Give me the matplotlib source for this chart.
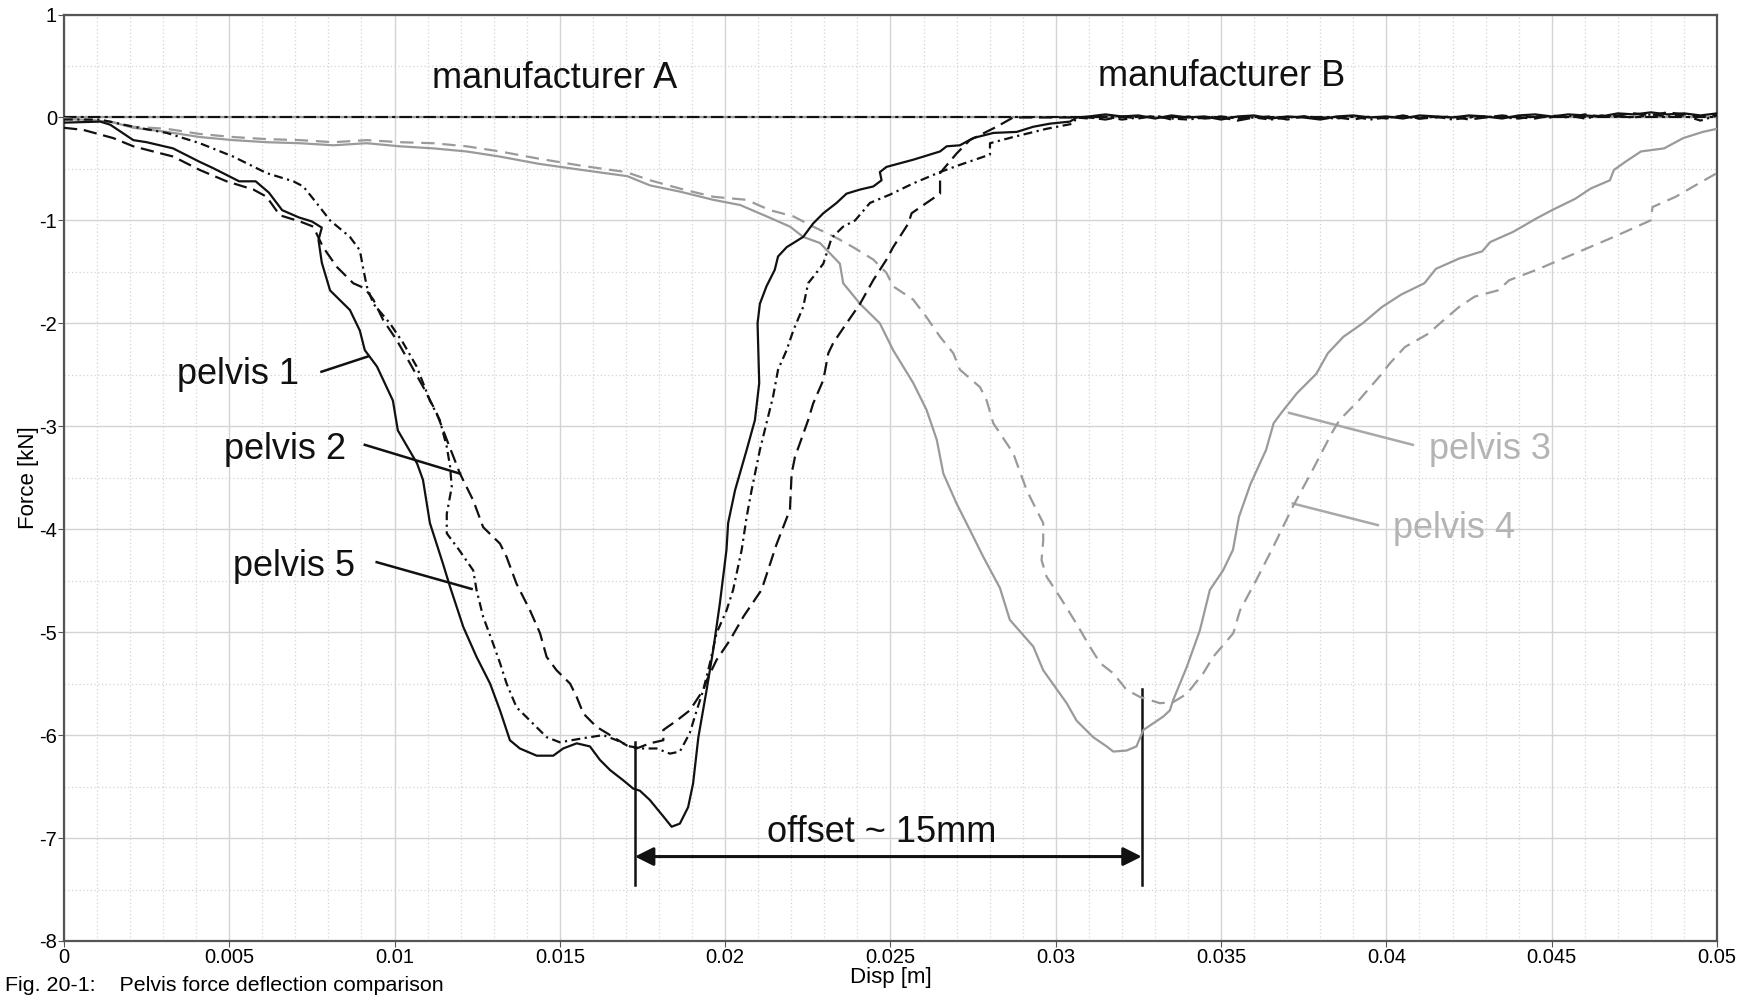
import numpy as np
import matplotlib.pyplot as plt
from matplotlib.ticker import MultipleLocator, FuncFormatter

plt.rcParams['font.family'] = ['Liberation Sans', 'DejaVu Sans']

# pelvis 1 (manufacturer A, black solid)
p1_x = [0.0, 0.0011, 0.0014, 0.0021, 0.0025, 0.0033, 0.0041, 0.0045, 0.0053, 0.0058,
        0.0062, 0.0066, 0.0071, 0.0075, 0.0078, 0.0077, 0.0078, 0.00805, 0.00865, 0.00895,
        0.0091, 0.00947, 0.00995, 0.0101, 0.01068, 0.01086, 0.01107, 0.01146, 0.01168, 0.01208,
        0.01248, 0.01289, 0.01319, 0.01349, 0.01379, 0.0143, 0.0148, 0.0151, 0.01551, 0.01591,
        0.01621, 0.01652, 0.01692, 0.01722, 0.01742, 0.01772, 0.01813, 0.01838, 0.01863, 0.01888,
        0.01903, 0.01919, 0.01944, 0.01964, 0.01984, 0.02004, 0.02009, 0.0203, 0.02065, 0.0209,
        0.02103, 0.02098, 0.02105, 0.02125, 0.0215, 0.0216, 0.02186, 0.02236, 0.02266, 0.02297,
        0.02337, 0.02367, 0.02408, 0.02448, 0.02473, 0.02468, 0.02488, 0.02569, 0.0265, 0.0267,
        0.0271, 0.0275, 0.02811, 0.02882, 0.02932, 0.02982, 0.03043, 0.03063]
p1_y = [-0.05, -0.04, -0.07, -0.22, -0.24, -0.30, -0.43, -0.49, -0.62, -0.62,
        -0.73, -0.90, -0.97, -1.01, -1.07, -1.19, -1.41, -1.68, -1.87, -2.07,
        -2.26, -2.42, -2.75, -3.04, -3.36, -3.52, -3.94, -4.33, -4.56, -4.95,
        -5.24, -5.50, -5.76, -6.05, -6.13, -6.20, -6.20, -6.13, -6.08, -6.11,
        -6.24, -6.34, -6.44, -6.52, -6.54, -6.63, -6.79, -6.89, -6.86, -6.70,
        -6.47, -6.02, -5.56, -5.17, -4.72, -4.20, -3.94, -3.62, -3.23, -2.94,
        -2.58, -2.00, -1.81, -1.64, -1.48, -1.35, -1.26, -1.16, -1.03, -0.93,
        -0.83, -0.74, -0.70, -0.67, -0.61, -0.53, -0.48, -0.41, -0.33, -0.28,
        -0.27, -0.20, -0.15, -0.14, -0.09, -0.06, -0.04, 0.0]

# pelvis 2 (manufacturer A, black dashed)
p2_x = [0.0, 0.00058, 0.00149, 0.0021, 0.0027, 0.00331, 0.00411, 0.00492, 0.00573, 0.00613,
        0.00653, 0.00714, 0.00754, 0.00784, 0.00825, 0.00875, 0.0091, 0.00936, 0.00966, 0.01006,
        0.01047, 0.01087, 0.01127, 0.01158, 0.01198, 0.01238, 0.01268, 0.01319, 0.01339, 0.01369,
        0.0141, 0.0144, 0.0146, 0.0149, 0.01531, 0.01551, 0.01571, 0.01611, 0.01652, 0.01702,
        0.01732, 0.01772, 0.01813, 0.01813, 0.01853, 0.01893, 0.01934, 0.01944, 0.01974, 0.02014,
        0.02055, 0.02095, 0.0211, 0.02155, 0.02196, 0.02201, 0.02211, 0.02251, 0.02266, 0.02297,
        0.02312, 0.02327, 0.02367, 0.02408, 0.02448, 0.02488, 0.02508, 0.02554, 0.02564, 0.02609,
        0.0265, 0.0265, 0.027, 0.0274, 0.02821, 0.02871]
p2_y = [-0.10, -0.12, -0.20, -0.28, -0.33, -0.38, -0.51, -0.62, -0.70, -0.77,
        -0.95, -1.01, -1.06, -1.26, -1.45, -1.61, -1.66, -1.77, -1.97, -2.16,
        -2.39, -2.62, -2.87, -3.13, -3.46, -3.72, -3.98, -4.14, -4.27, -4.53,
        -4.79, -5.01, -5.24, -5.37, -5.50, -5.63, -5.79, -5.92, -6.00, -6.10,
        -6.13, -6.08, -6.05, -5.95, -5.86, -5.76, -5.56, -5.47, -5.27, -5.08,
        -4.85, -4.66, -4.59, -4.15, -3.81, -3.46, -3.30, -2.94, -2.78, -2.55,
        -2.29, -2.19, -2.00, -1.81, -1.58, -1.38, -1.26, -1.03, -0.93, -0.83,
        -0.74, -0.54, -0.35, -0.22, -0.09, 0.0]

# pelvis 5 (manufacturer A, black dash-dot)
p5_x = [0.0, 0.00109, 0.0021, 0.00311, 0.00411, 0.00512, 0.00613, 0.00694, 0.00724, 0.00764,
        0.00805, 0.00865, 0.00895, 0.00906, 0.00916, 0.00936, 0.00986, 0.01026, 0.01067, 0.01107,
        0.01137, 0.01158, 0.01168, 0.01173, 0.01158, 0.01158, 0.01195, 0.01238, 0.01248, 0.01268,
        0.01298, 0.01319, 0.01339, 0.01369, 0.0141, 0.0146, 0.015, 0.01571, 0.01631, 0.01672,
        0.01712, 0.01752, 0.01793, 0.01833, 0.01863, 0.01893, 0.01914, 0.01934, 0.01954, 0.01974,
        0.02004, 0.02024, 0.0205, 0.02065, 0.0208, 0.02105, 0.02125, 0.02145, 0.0216, 0.02186,
        0.02206, 0.02236, 0.02251, 0.02266, 0.02297, 0.02322, 0.02357, 0.02393, 0.02438, 0.02498,
        0.02569, 0.0265, 0.0271, 0.02801, 0.02801, 0.02871, 0.02972, 0.03052, 0.03063]
p5_y = [-0.02, -0.02, -0.09, -0.15, -0.25, -0.38, -0.54, -0.62, -0.67, -0.83,
        -1.00, -1.16, -1.29, -1.48, -1.64, -1.81, -2.00, -2.19, -2.42, -2.75,
        -2.94, -3.20, -3.39, -3.59, -3.85, -4.04, -4.20, -4.40, -4.59, -4.85,
        -5.11, -5.30, -5.50, -5.73, -5.86, -6.02, -6.07, -6.03, -6.00, -6.05,
        -6.11, -6.13, -6.13, -6.18, -6.16, -5.98, -5.76, -5.56, -5.30, -5.01,
        -4.79, -4.59, -4.20, -3.88, -3.62, -3.23, -2.97, -2.71, -2.45, -2.26,
        -2.07, -1.84, -1.61, -1.55, -1.42, -1.17, -1.06, -1.00, -0.83, -0.75,
        -0.64, -0.53, -0.46, -0.36, -0.25, -0.19, -0.11, -0.06, 0.0]

# noisy zero-force tail of the manufacturer A curves
tail_x = [0.0310, 0.0315, 0.0320, 0.0325, 0.0330, 0.0335, 0.0340, 0.0345, 0.0350, 0.0355,
          0.0360, 0.0365, 0.0370, 0.0375, 0.0380, 0.0385, 0.0390, 0.0395, 0.0400, 0.0405,
          0.0410, 0.0415, 0.0420, 0.0425, 0.0430, 0.0435, 0.0440, 0.0445, 0.0450, 0.0455,
          0.0460, 0.0465, 0.0470, 0.0475, 0.0480, 0.0485, 0.0490, 0.0495, 0.0500]
p1_tail = [0.01, 0.03, 0.01, 0.02, -0.01, 0.02, 0.0, 0.01, -0.02, 0.01,
           0.02, -0.01, 0.01, 0.0, -0.02, 0.01, 0.02, 0.0, 0.01, -0.01,
           0.02, 0.01, 0.0, 0.02, 0.01, -0.01, 0.02, 0.03, 0.01, 0.03,
           0.02, 0.01, 0.04, 0.03, 0.05, 0.03, 0.04, 0.02, 0.04]
p2_tail = [0.0, -0.02, 0.01, -0.01, 0.02, -0.02, 0.01, -0.01, 0.0, -0.03,
           0.0, 0.01, -0.02, 0.01, -0.01, 0.0, -0.02, 0.01, -0.01, 0.02,
           -0.01, 0.0, 0.01, -0.02, 0.0, 0.02, 0.0, -0.01, 0.02, 0.0,
           0.03, 0.01, 0.02, 0.04, 0.02, 0.05, 0.03, 0.01, 0.03]
p5_tail = [-0.01, 0.01, -0.02, 0.0, 0.01, -0.01, -0.02, 0.0, 0.01, -0.01,
           0.0, -0.02, 0.0, 0.01, 0.0, -0.01, 0.01, -0.02, 0.0, 0.01,
           -0.01, 0.01, -0.02, 0.0, 0.01, 0.0, -0.01, 0.01, 0.0, 0.02,
           -0.01, 0.02, 0.01, 0.0, 0.03, 0.01, 0.02, -0.03, 0.02]

# pelvis 3 (manufacturer B, grey solid)
p3_x = [0.0, 0.0014, 0.0021, 0.00311, 0.00411, 0.00512, 0.00613, 0.00714, 0.00815, 0.00916,
        0.01016, 0.01117, 0.01218, 0.01319, 0.01436, 0.01568, 0.01704, 0.01773, 0.01863, 0.01964,
        0.02045, 0.02125, 0.02196, 0.02236, 0.02287, 0.02347, 0.02357, 0.02408, 0.02468, 0.02508,
        0.02569, 0.02609, 0.0264, 0.0266, 0.027, 0.0275, 0.02781, 0.02831, 0.02861, 0.02932,
        0.02962, 0.03033, 0.03063, 0.03113, 0.03154, 0.03174, 0.03214, 0.03244, 0.03265, 0.03325,
        0.03345, 0.03355, 0.03396, 0.03436, 0.03446, 0.03466, 0.03506, 0.03536, 0.03554, 0.03589,
        0.03636, 0.03659, 0.03682, 0.03729, 0.03788, 0.03823, 0.0387, 0.03928, 0.03987, 0.04045,
        0.04115, 0.0415, 0.0422, 0.0429, 0.04314, 0.04384, 0.04454, 0.04501, 0.04571, 0.04618,
        0.04676, 0.04688, 0.04723, 0.0477, 0.0484, 0.04898, 0.04957, 0.05]
p3_y = [-0.01, -0.04, -0.10, -0.14, -0.19, -0.22, -0.24, -0.25, -0.27, -0.25,
        -0.28, -0.30, -0.33, -0.38, -0.45, -0.51, -0.57, -0.66, -0.72, -0.80,
        -0.85, -0.96, -1.06, -1.16, -1.22, -1.42, -1.61, -1.81, -2.00, -2.26,
        -2.58, -2.84, -3.13, -3.46, -3.75, -4.07, -4.27, -4.57, -4.88, -5.14,
        -5.37, -5.69, -5.86, -6.02, -6.11, -6.16, -6.15, -6.11, -5.95, -5.82,
        -5.76, -5.66, -5.34, -4.98, -4.85, -4.59, -4.40, -4.20, -3.88, -3.56,
        -3.23, -2.97, -2.87, -2.68, -2.49, -2.29, -2.13, -2.00, -1.84, -1.72,
        -1.61, -1.47, -1.37, -1.30, -1.21, -1.11, -0.98, -0.90, -0.79, -0.69,
        -0.61, -0.51, -0.43, -0.33, -0.30, -0.20, -0.14, -0.11]

# pelvis 4 (manufacturer B, grey dashed)
p4_x = [0.0, 0.0014, 0.0021, 0.00311, 0.00411, 0.00512, 0.00613, 0.00714, 0.00815, 0.00916,
        0.01016, 0.01117, 0.01218, 0.01319, 0.01436, 0.01568, 0.017, 0.01773, 0.01874, 0.01964,
        0.02065, 0.02135, 0.02206, 0.02266, 0.02337, 0.02387, 0.02448, 0.02488, 0.02508, 0.02569,
        0.02609, 0.0265, 0.0269, 0.0271, 0.02771, 0.02791, 0.02811, 0.02871, 0.02912, 0.02932,
        0.02962, 0.02962, 0.02957, 0.02972, 0.03013, 0.03063, 0.03103, 0.03134, 0.03174, 0.03214,
        0.03255, 0.03315, 0.03355, 0.03396, 0.03446, 0.03476, 0.03537, 0.03557, 0.03607, 0.03658,
        0.03717, 0.03776, 0.03834, 0.03858, 0.03916, 0.03986, 0.0401, 0.04056, 0.04127, 0.04162,
        0.0422, 0.04267, 0.04337, 0.04372, 0.04454, 0.04571, 0.04688, 0.04799, 0.04805, 0.04875,
        0.04945, 0.05]
p4_y = [-0.01, -0.04, -0.09, -0.11, -0.16, -0.19, -0.21, -0.22, -0.24, -0.22,
        -0.24, -0.25, -0.28, -0.33, -0.40, -0.47, -0.53, -0.61, -0.70, -0.77,
        -0.80, -0.90, -0.96, -1.06, -1.17, -1.26, -1.38, -1.51, -1.64, -1.77,
        -1.94, -2.13, -2.29, -2.45, -2.62, -2.75, -2.97, -3.26, -3.62, -3.75,
        -3.94, -4.11, -4.30, -4.46, -4.66, -4.92, -5.14, -5.30, -5.40, -5.56,
        -5.63, -5.69, -5.68, -5.60, -5.40, -5.24, -5.01, -4.79, -4.49, -4.17,
        -3.78, -3.43, -3.07, -2.94, -2.75, -2.49, -2.39, -2.23, -2.10, -2.00,
        -1.84, -1.74, -1.68, -1.58, -1.48, -1.32, -1.16, -1.00, -0.87, -0.77,
        -0.64, -0.54]

# peak positions used for the offset annotation [m]
peak_a = 0.01727
peak_b = 0.0326

black = '#111111'
grey = '#9a9a9a'

fig = plt.figure(figsize=(17.56, 9.97), dpi=100)
ax = fig.add_axes([0.0364, 0.0562, 0.9414, 0.9292])

ax.set_xlim(0, 0.05)
ax.set_ylim(-8, 1)
ax.xaxis.set_major_locator(MultipleLocator(0.005))
ax.xaxis.set_minor_locator(MultipleLocator(0.001))
ax.yaxis.set_major_locator(MultipleLocator(1))
ax.yaxis.set_minor_locator(MultipleLocator(0.5))
ax.xaxis.set_major_formatter(FuncFormatter(lambda v, p: f'{v:g}'))
ax.yaxis.set_major_formatter(FuncFormatter(lambda v, p: f'{v:g}'))
ax.grid(which='major', color='#d4d4d4', lw=1.0, ls='-')
ax.grid(which='minor', color='#d4d4d4', lw=0.9, ls=(0, (1, 2)))
ax.set_axisbelow(True)
for s in ax.spines.values():
    s.set_color('#555555')
    s.set_linewidth(1.6)
ax.tick_params(which='major', direction='out', length=4, color='#555555',
               labelsize=14.5, pad=1)
ax.tick_params(which='minor', length=0)

# zero-force return paths
ax.axhline(0, color=grey, lw=1.6, zorder=2)
ax.axhline(0, color=black, lw=1.5, ls=(0, (6, 2, 1.5, 2)), zorder=3)

ax.plot(p3_x, p3_y, color=grey, lw=1.6, zorder=3)
ax.plot(p4_x, p4_y, color=grey, lw=1.6, ls=(0, (6, 3.5)), zorder=3)
ax.plot(p1_x + tail_x, p1_y + p1_tail, color=black, lw=1.6, zorder=4)
ax.plot(p2_x + tail_x, p2_y + p2_tail, color=black, lw=1.6, ls=(0, (6, 3)), zorder=4)
ax.plot(p5_x + tail_x, p5_y + p5_tail, color=black, lw=1.6,
        ls=(0, (4, 2, 1, 2)), zorder=4)

# offset annotation
ax.plot([peak_a, peak_a], [-6.07, -7.46], color=black, lw=1.8)
ax.plot([peak_b, peak_b], [-5.55, -7.46], color=black, lw=1.8)
ax.annotate('', xy=(peak_a, -7.18), xytext=(peak_b, -7.18),
            arrowprops=dict(arrowstyle='<|-|>', color=black, lw=2.2,
                            mutation_scale=28, shrinkA=0, shrinkB=0))
ax.text((peak_a + peak_b) / 2 - 0.0002, -6.95, 'offset ~ 15mm', fontsize=26,
        ha='center', va='center', color=black)

ax.text(0.01484, 0.38, 'manufacturer A', fontsize=26, ha='center', va='center', color=black)
ax.text(0.03503, 0.40, 'manufacturer B', fontsize=26, ha='center', va='center', color=black)

# curve labels with leader lines
labels = [
    ('pelvis 1', 0.00342, -2.50, (0.00779, 0.00921), (-2.47, -2.32), black),
    ('pelvis 2', 0.00484, -3.23, (0.0091, 0.01198), (-3.18, -3.46), black),
    ('pelvis 5', 0.00512, -4.36, (0.00946, 0.01233), (-4.32, -4.58), black),
    ('pelvis 3', 0.0413, -3.23, (0.0408, 0.03706), (-3.18, -2.87), '#b4b4b4'),
    ('pelvis 4', 0.0402, -3.99, (0.03974, 0.03717), (-3.96, -3.75), '#b4b4b4'),
]
for txt, tx, ty, lx, ly, c in labels:
    ax.text(tx, ty, txt, fontsize=26, ha='left', va='center', color=c)
    ax.plot(lx, ly, color=black if c == black else '#a8a8a8', lw=1.8)

ax.set_xlabel('Disp [m]', fontsize=16, labelpad=0)
ax.set_ylabel('Force [kN]', fontsize=16, labelpad=0)
fig.text(0.003, 0.002, 'Fig. 20-1:    Pelvis force deflection comparison',
         fontsize=15.4, ha='left', va='bottom')

fig.savefig('out.png', dpi=100)
